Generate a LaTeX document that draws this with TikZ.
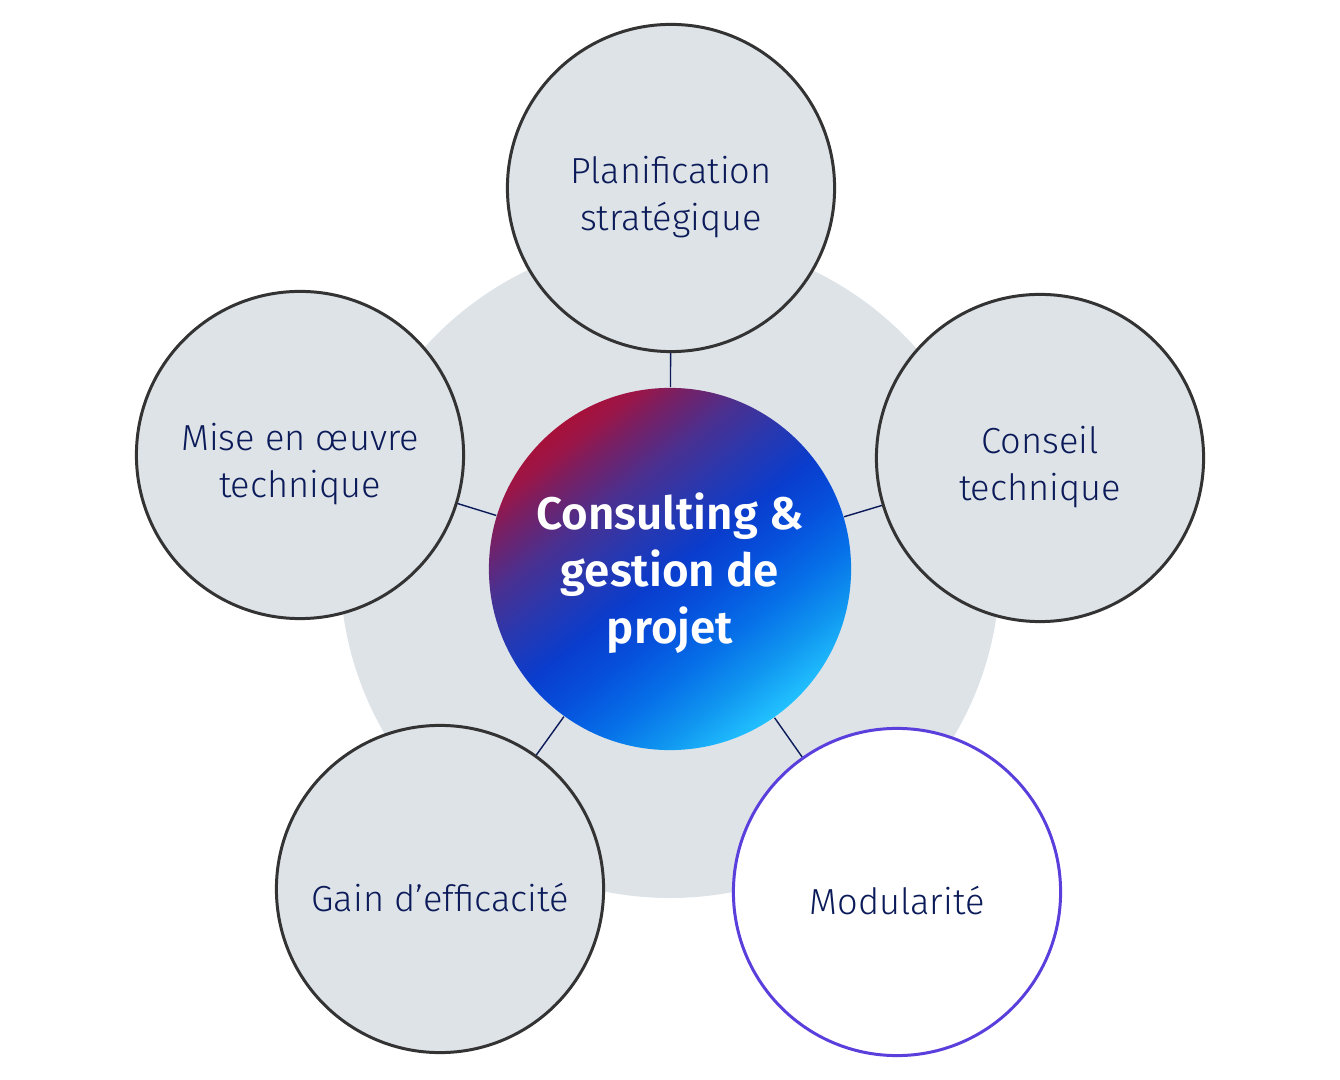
\documentclass[tikz,border=0pt]{standalone}
\usepackage{fontspec}
\setmainfont{Fira Sans}[UprightFont={* Light},BoldFont={* SemiBold}]
\usepackage{tikz}
\usetikzlibrary{shapes}
\definecolor{bubblegray}{HTML}{DEE3E8}
\definecolor{rimgray}{HTML}{333333}
\definecolor{inknavy}{HTML}{0B1A58}
\definecolor{rimpurple}{HTML}{5A3FDD}
\definecolor{hubred}{HTML}{A8103A}
\definecolor{hubcrimson}{HTML}{9A1648}
\definecolor{hubwine}{HTML}{7A1F62}
\definecolor{hubviolet}{HTML}{4A3090}
\definecolor{hubindigo}{HTML}{2838B0}
\definecolor{hubblue}{HTML}{0A3CCC}
\definecolor{hubroyal}{HTML}{0650DC}
\definecolor{hubmid}{HTML}{0670E8}
\definecolor{hubsky}{HTML}{1096F0}
\definecolor{hubcyan}{HTML}{22C2FF}
\pgfdeclarehorizontalshading{hubshade}{100bp}{color(0bp)=(hubred); color(25bp)=(hubred); color(28bp)=(hubcrimson); color(31.25bp)=(hubwine); color(37.5bp)=(hubviolet); color(43.75bp)=(hubindigo); color(50bp)=(hubblue); color(56bp)=(hubroyal); color(62.5bp)=(hubmid); color(68.75bp)=(hubsky); color(75bp)=(hubcyan); color(100bp)=(hubcyan)}

\begin{document}
\begin{tikzpicture}[x=0.01cm,y=-0.01cm,
    bubbletext/.style={align=center, text=inknavy, yshift=-0.9mm, font=\fontsize{10.3}{13.4}\selectfont},
    bubble/.style={circle, draw=rimgray, line width=0.85pt, fill=bubblegray, minimum size=3.27cm, inner sep=0pt, label={[bubbletext]center:#1}},
    hub/.style={circle, minimum size=3.62cm, inner sep=0pt, shading=hubshade, shading angle=-52, label={[align=center, text=white, yshift=-0.45mm, font=\fontsize{13}{16.2}\selectfont\bfseries]center:#1}},
    link/.style={draw=inknavy, line width=0.4pt}]
    \useasboundingbox (0,0) rectangle (1340,1080);
    \fill[bubblegray] (670,568) circle (330);
    \node[hub={Consulting \&\\gestion de\\projet}] (core) at (670,569) {};
    \node[bubble={Planification\\strat\'egique}] (plan) at (671,188) {};
    \node[bubble={Mise en \oe uvre\\technique}] (impl) at (300,455) {};
    \node[bubble={Conseil\\technique}] (advice) at (1040,458) {};
    \node[bubble={Gain d’efficacit\'e}] (gain) at (440,889) {};
    \node[bubble={Modularit\'e}, fill=white, draw=rimpurple] (modul) at (897,892) {};
    \draw[link] (core) -- (plan);
    \draw[link] (core) -- (impl);
    \draw[link] (core) -- (advice);
    \draw[link] (core) -- (gain);
    \draw[link] (core) -- (modul);
\end{tikzpicture}
\end{document}
